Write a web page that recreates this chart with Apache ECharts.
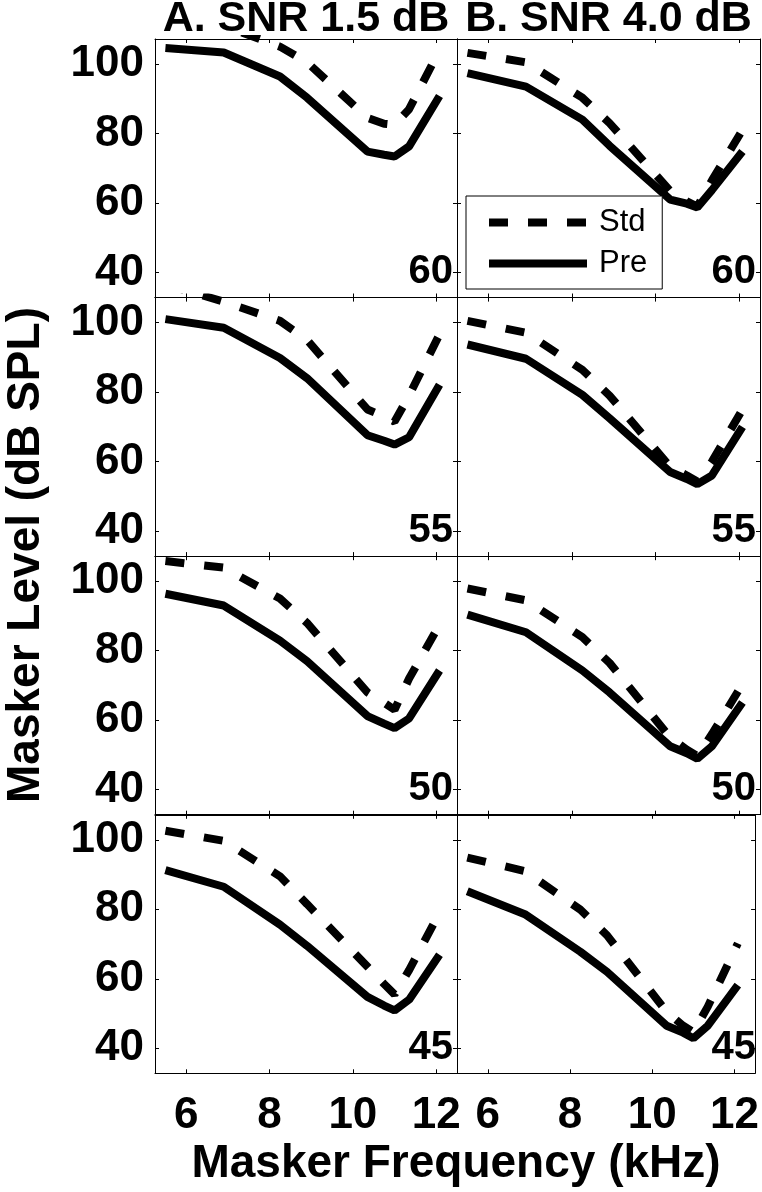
<!DOCTYPE html>
<html><head><meta charset="utf-8">
<script src="https://cdn.jsdelivr.net/npm/echarts@6/dist/echarts.min.js"></script>
<style>html,body{margin:0;padding:0;background:#fff}#c{width:762px;height:1192px}</style>
</head><body><div id="c"></div>
<script>
// ---- data ----
const freqs = [5.5, 6.9, 8.25, 8.9, 10.35, 10.75, 11.0, 11.35, 12.08]; // kHz
const columnTitles = ['A. SNR 1.5 dB', 'B. SNR 4.0 dB'];
const probeLevels = ['60', '55', '50', '45'];
const xTicks = [6, 8, 10, 12];
const yTicks = [40, 60, 80, 100];
const seriesNames = ['Std', 'Pre'];

const preA60 = [104.6, 103.3, 96.4, 90.3, 74.8, 73.9, 73.4, 76.3, 90.8];
const stdA60 = [113, 111, 105, 100.5, 84.5, 82.8, 82.5, 87, 104];
const preB60 = [97.4, 93.5, 84, 76.5, 61, 59.8, 58.7, 63.7, 74.8];
const stdB60 = [103.2, 100.5, 90.3, 83, 63.5, 60.5, 59, 66.5, 81];

const preA55 = [101, 98.5, 89.8, 84, 67.6, 66, 64.9, 67, 82.1];
const stdA55 = [111, 106, 100.5, 95, 75, 73, 71.5, 79, 96.6];
const preB55 = [93.7, 89.6, 79.2, 72.5, 57, 55, 53.5, 56, 70];
const stdB55 = [100.5, 97.1, 86.4, 79, 58.5, 56, 54.3, 60, 75];

const preA50 = [96.4, 93, 82.9, 77, 61.2, 59, 57.7, 60.5, 74.3];
const stdA50 = [105.8, 103.9, 95, 88, 68, 65, 63, 72, 87.5];
const preB50 = [90.4, 85.3, 74.3, 68, 52.5, 50.5, 48.9, 52.5, 65.1];
const stdB50 = [97.9, 94.5, 83.9, 76.5, 55, 51.5, 49.7, 56, 70.4];

const preA45 = [91.3, 86.5, 75.6, 69.5, 54.8, 52.3, 50.9, 54, 66.9];
const stdA45 = [102.6, 99.7, 89.5, 81.5, 63.5, 58.5, 55.5, 62.5, 79];
const preB45 = [85.2, 78.6, 67.8, 62, 46.5, 44.5, 42.9, 46.5, 58.2];
const stdB45 = [94.9, 91, 79.9, 72.5, 50.5, 46.5, 44.6, 52, 70.2];

// panels[row][col] = {std, pre}
const panels = [
  [{std: stdA60, pre: preA60}, {std: stdB60, pre: preB60}],
  [{std: stdA55, pre: preA55}, {std: stdB55, pre: preB55}],
  [{std: stdA50, pre: preA50}, {std: stdB50, pre: preB50}],
  [{std: stdA45, pre: preA45}, {std: stdB45, pre: preB45}]
];

// ---- layout ----
const FONT = '"Liberation Sans", Arial, Helvetica, sans-serif';
const colLeft = [155, 457], colWidth = [302, 303];
const rowTop = [39, 297.6, 556.2, 814.8], rowHeight = 258.5;
const X_MIN = 5.25, X_MAX = 12.5, Y_MIN = 32.8, Y_MAX = 107.2;
const DASH = [19, 20];

const grids = [], xAxes = [], yAxes = [], series = [], graphic = [];
const axisLine = {show: true, onZero: false, lineStyle: {color: '#000', width: 1}};

for (let r = 0; r < 4; r++) {
  for (let c = 0; c < 2; c++) {
    const gi = grids.length;
    grids.push({left: colLeft[c], top: rowTop[r], width: colWidth[c], height: rowHeight, containLabel: false});
    const tick = (vals) => ({show: true, inside: true, length: 4, customValues: vals, lineStyle: {color: '#000', width: 1}});
    xAxes.push({type: 'value', gridIndex: gi, position: 'bottom', min: X_MIN, max: X_MAX,
      axisLine, axisTick: tick(xTicks), splitLine: {show: false},
      axisLabel: {show: r === 3, customValues: xTicks, margin: 21, color: '#000',
        fontFamily: FONT, fontWeight: 'bold', fontSize: 44}});
    xAxes.push({type: 'value', gridIndex: gi, position: 'top', min: X_MIN, max: X_MAX,
      axisLine, axisTick: tick(xTicks), splitLine: {show: false}, axisLabel: {show: false}});
    yAxes.push({type: 'value', gridIndex: gi, position: 'left', min: Y_MIN, max: Y_MAX,
      axisLine, axisTick: tick(yTicks), splitLine: {show: false},
      axisLabel: {show: c === 0, customValues: yTicks, margin: 11, color: '#000',
        fontFamily: FONT, fontWeight: 'bold', fontSize: 44}});
    yAxes.push({type: 'value', gridIndex: gi, position: 'right', min: Y_MIN, max: Y_MAX,
      axisLine, axisTick: tick(yTicks), splitLine: {show: false}, axisLabel: {show: false}});

    const p = panels[r][c];
    series.push({type: 'line', name: 'Pre', xAxisIndex: 2 * gi, yAxisIndex: 2 * gi,
      data: freqs.map((f, i) => [f, p.pre[i]]), symbol: 'none', silent: true,
      lineStyle: {color: '#000', width: 8, type: 'solid'}, itemStyle: {color: '#000'}});
    series.push({type: 'line', name: 'Std', xAxisIndex: 2 * gi, yAxisIndex: 2 * gi,
      data: freqs.map((f, i) => [f, p.std[i]]), symbol: 'none', silent: true,
      lineStyle: {color: '#000', width: 8, type: DASH}, itemStyle: {color: '#000'}});

    graphic.push({type: 'text', x: colLeft[c] + colWidth[c] - 4, y: rowTop[r] + rowHeight - 25.5, z: 100,
      style: {text: probeLevels[r], fill: '#000', font: 'bold 40px ' + FONT,
        align: 'right', verticalAlign: 'middle', textAlign: 'right', textVerticalAlign: 'middle'}});
  }
}

for (let c = 0; c < 2; c++) {
  graphic.push({type: 'text', x: colLeft[c] + colWidth[c] / 2, y: 19, z: 100,
    style: {text: columnTitles[c], fill: '#000', font: 'bold 43px ' + FONT,
      align: 'center', verticalAlign: 'middle', textAlign: 'center', textVerticalAlign: 'middle'}});
}
graphic.push({type: 'text', x: 456, y: 1164, z: 100,
  style: {text: 'Masker Frequency (kHz)', fill: '#000', font: 'bold 46px ' + FONT,
    align: 'center', verticalAlign: 'middle', textAlign: 'center', textVerticalAlign: 'middle'}});
graphic.push({type: 'text', x: 26, y: 555, rotation: Math.PI / 2, z: 100,
  style: {text: 'Masker Level (dB SPL)', fill: '#000', font: 'bold 46px ' + FONT,
    align: 'center', verticalAlign: 'middle', textAlign: 'center', textVerticalAlign: 'middle'}});

const hiddenSymbol = {color: 'rgba(0,0,0,0)', borderWidth: 0, opacity: 0};
const chart = echarts.init(document.getElementById('c'), null, {renderer: 'canvas'});
chart.setOption({
  animation: false,
  backgroundColor: '#fff',
  grid: grids,
  xAxis: xAxes,
  yAxis: yAxes,
  series: series,
  legend: {
    orient: 'vertical', left: 466, top: 196, padding: [11, 15, 10, 19],
    itemGap: 10, itemWidth: 98, itemHeight: 14, selectedMode: false,
    backgroundColor: '#fff', borderColor: '#000', borderWidth: 1, borderRadius: 0,
    textStyle: {color: '#000', fontFamily: FONT, fontSize: 31, lineHeight: 31, padding: [0, 0, 0, 7]},
    data: [
      {name: seriesNames[0], lineStyle: {color: '#000', width: 8, type: DASH}, itemStyle: hiddenSymbol},
      {name: seriesNames[1], lineStyle: {color: '#000', width: 8, type: 'solid'}, itemStyle: hiddenSymbol}
    ],
    lineStyle: {width: 8},
    itemStyle: hiddenSymbol
  },
  graphic: graphic
});
</script>
</body></html>
